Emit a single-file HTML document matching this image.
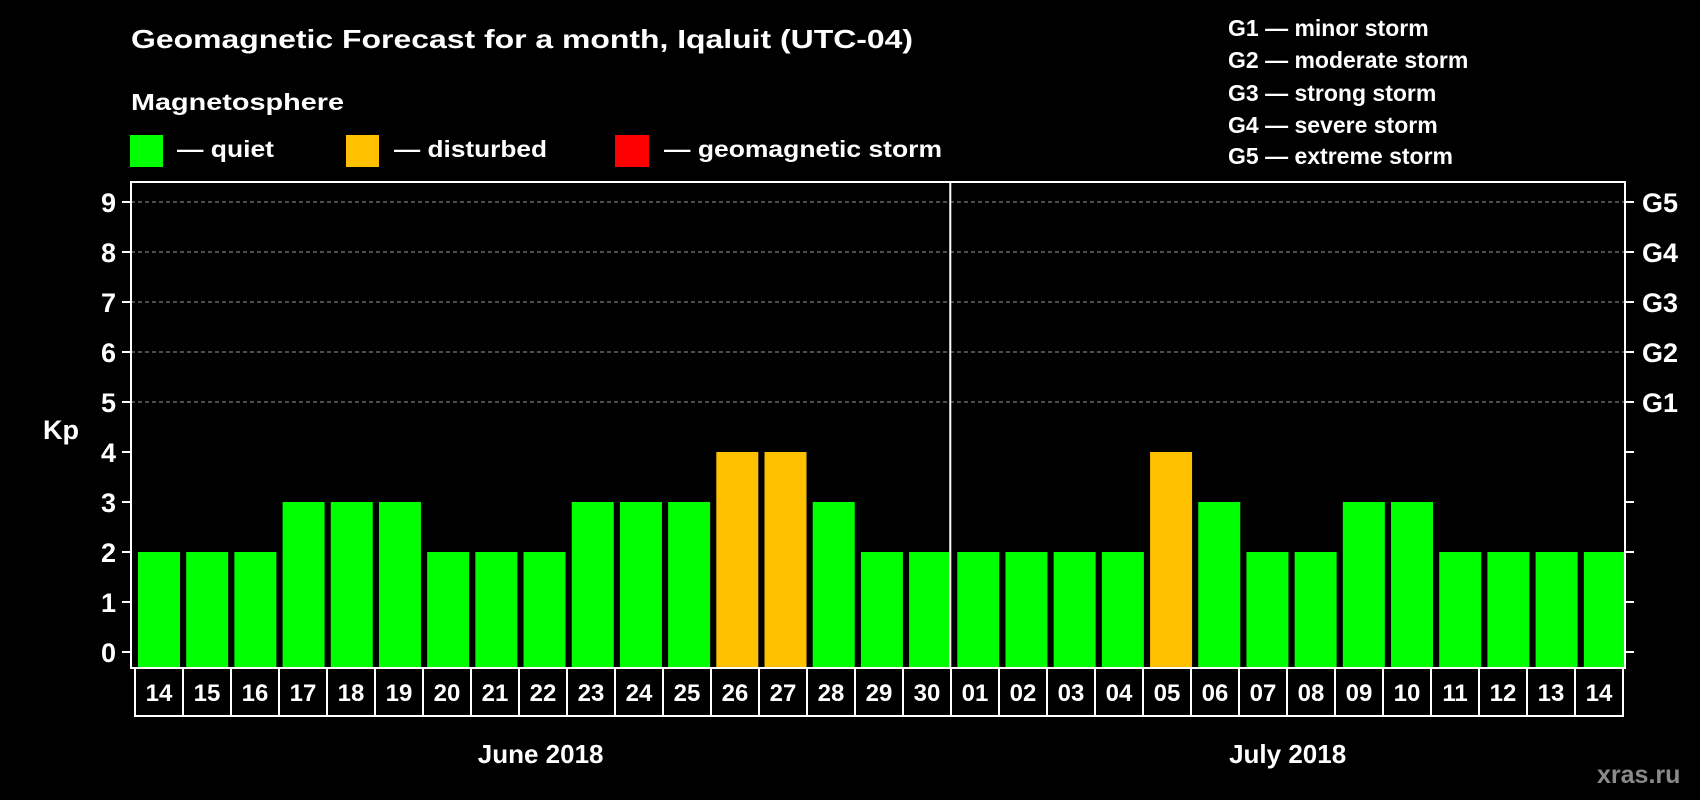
<!DOCTYPE html>
<html><head><meta charset="utf-8"><style>
html,body{margin:0;padding:0;background:#000;}
svg{display:block;font-family:"Liberation Sans",Arial,sans-serif;font-weight:bold;}
</style></head><body>
<svg id="chart" width="1700" height="800" viewBox="0 0 1700 800">
<rect width="1700" height="800" fill="#000"/>
<text x="131" y="48" fill="#fff" font-size="26" textLength="782" lengthAdjust="spacingAndGlyphs">Geomagnetic Forecast for a month, Iqaluit (UTC-04)</text>
<text x="131" y="110" fill="#fff" font-size="23" textLength="213" lengthAdjust="spacingAndGlyphs">Magnetosphere</text>
<g>
<rect x="130" y="135" width="33" height="32" fill="#00ff00"/>
<text x="177" y="157" fill="#fff" font-size="23" textLength="97" lengthAdjust="spacingAndGlyphs">— quiet</text></g>
<g>
<rect x="346" y="135" width="33" height="32" fill="#ffc000"/>
<text x="394" y="157" fill="#fff" font-size="23" textLength="153" lengthAdjust="spacingAndGlyphs">— disturbed</text></g>
<g>
<rect x="615" y="135" width="34" height="32" fill="#ff0000"/>
<text x="664" y="157" fill="#fff" font-size="23" textLength="278" lengthAdjust="spacingAndGlyphs">— geomagnetic storm</text></g>
<g font-size="23" fill="#fff">
<text x="1228" y="36">G1 — minor storm</text>
<text x="1228" y="68">G2 — moderate storm</text>
<text x="1228" y="101">G3 — strong storm</text>
<text x="1228" y="133">G4 — severe storm</text>
<text x="1228" y="164">G5 — extreme storm</text>
</g>
<text x="43" y="439" fill="#fff" font-size="27">Kp</text>
<g id="plot"></g>
<text x="1597" y="783" fill="#8a8a8a" font-size="25">xras.ru</text>
</svg>
<script>
const days = ["14","15","16","17","18","19","20","21","22","23","24","25","26","27","28","29","30","01","02","03","04","05","06","07","08","09","10","11","12","13","14"];
const kpValues = [2,2,2,3,3,3,2,2,2,3,3,3,4,4,3,2,2,2,2,2,2,4,3,2,2,3,3,2,2,2,2];
const yTicks = [0,1,2,3,4,5,6,7,8,9];
const gLabels = ["G1","G2","G3","G4","G5"];
const months = ["June 2018","July 2018"];
const monthStartIdx = [0,17];

const NS = "http://www.w3.org/2000/svg";
const plot = document.getElementById("plot");
const L = 131, R = 1625, T = 182, B = 668;
const pitch = (R - L) / days.length;
const y = v => 652 - 50 * v;
const x = i => L + i * pitch;
function mk(tag, attrs, parent) {
  const e = document.createElementNS(NS, tag);
  for (const k in attrs) e.setAttribute(k, attrs[k]);
  (parent || plot).appendChild(e);
  return e;
}
// grid
yTicks.forEach(v => {
  if (v >= 5) {
    const g = mk("line", {x1: L, x2: R, y1: y(v), y2: y(v), stroke: "#9a9a9a", "stroke-width": 1, "stroke-dasharray": "4,3"});
    
    
  }
  const t1 = mk("line", {x1: L - 9, x2: L, y1: y(v), y2: y(v), stroke: "#fff", "stroke-width": 2});
  
  
  const t2 = mk("line", {x1: R, x2: R + 9, y1: y(v), y2: y(v), stroke: "#fff", "stroke-width": 2});
  
  
  const lab = mk("text", {x: 116, y: y(v) + 10, fill: "#fff", "font-size": 27, "text-anchor": "end"});
  lab.textContent = v;
  
  
});
gLabels.forEach((g, k) => {
  const t = mk("text", {x: 1642, y: y(5 + k) + 10, fill: "#fff", "font-size": 27});
  t.textContent = g;
  
  
});
// bars
kpValues.forEach((v, i) => {
  const b = mk("rect", {x: x(i) + 7, y: y(v), width: 42, height: B - y(v), fill: v >= 5 ? "#ff0000" : (v >= 4 ? "#ffc000" : "#00ff00")});
  
  
});
// frame
const fr = mk("rect", {x: L, y: T, width: R - L, height: B - T, fill: "none", stroke: "#fff", "stroke-width": 2});


const dv = mk("line", {x1: x(monthStartIdx[1]), x2: x(monthStartIdx[1]), y1: T, y2: B, stroke: "#fff", "stroke-width": 2});


// day label boxes
const bx0 = 135, bx1 = 1623, bp = (bx1 - bx0) / days.length;
const box = mk("rect", {x: bx0, y: B, width: bx1 - bx0, height: 48, fill: "none", stroke: "#fff", "stroke-width": 2});


days.forEach((d, i) => {
  if (i > 0) {
    const l = mk("line", {x1: bx0 + i * bp, x2: bx0 + i * bp, y1: B, y2: B + 48, stroke: "#fff", "stroke-width": 2});
    
    
  }
  const t = mk("text", {x: bx0 + (i + 0.5) * bp, y: 701, fill: "#fff", "font-size": 24, "text-anchor": "middle"});
  t.textContent = d;
  
  
});
months.forEach((m, k) => {
  const s = monthStartIdx[k], e = k + 1 < monthStartIdx.length ? monthStartIdx[k + 1] : days.length;
  const t = mk("text", {x: (x(s) + x(e)) / 2, y: 763, fill: "#fff", "font-size": 26, "text-anchor": "middle"});
  t.textContent = m;
  
  
});
</script>
</body></html>
